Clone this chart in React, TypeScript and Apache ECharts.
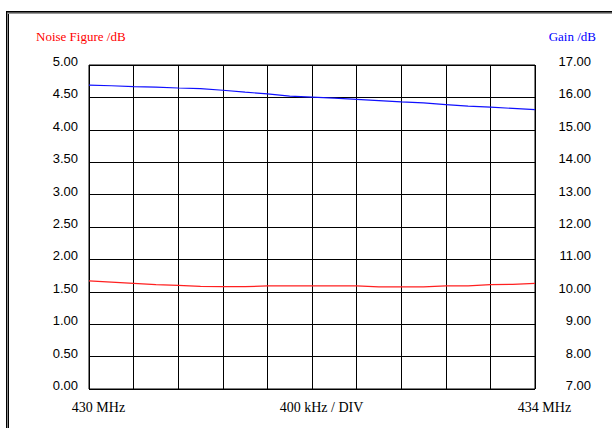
import React, { useEffect, useRef } from "react";
import * as echarts from "echarts";

const freqMHz = [430.0, 430.2, 430.4, 430.6, 430.8, 431.0, 431.2, 431.4, 431.6, 431.8, 432.0, 432.2, 432.4, 432.6, 432.8, 433.0, 433.2, 433.4, 433.6, 433.8, 434.0];
const noiseFigure = [1.67, 1.65, 1.63, 1.61, 1.6, 1.585, 1.58, 1.58, 1.59, 1.59, 1.59, 1.59, 1.59, 1.575, 1.575, 1.575, 1.59, 1.59, 1.61, 1.615, 1.63];
const gain = [16.38, 16.36, 16.33, 16.32, 16.29, 16.27, 16.22, 16.16, 16.11, 16.04, 16.01, 15.98, 15.94, 15.9, 15.86, 15.83, 15.78, 15.73, 15.7, 15.66, 15.62];
const xLabels = ["430 MHz", "400 kHz / DIV", "434 MHz"];
const leftTitle = "Noise Figure /dB";
const rightTitle = "Gain /dB";

export default function App() {
  const ref = useRef<HTMLDivElement>(null);
  useEffect(() => {
    if (!ref.current) return;
    const chart = echarts.init(ref.current, null, { renderer: "svg" });
    const tickFont = { fontFamily: "Liberation Sans", fontSize: 13, color: "#000", verticalAlign: "bottom", lineHeight: 7 };
    chart.setOption({
      animation: false,
      backgroundColor: "#fff",
      grid: { left: 89, top: 65, right: 77, bottom: 39, show: true, borderColor: "#000", borderWidth: 1 },
      xAxis: {
        type: "value",
        min: 430,
        max: 434,
        interval: 0.4,
        axisLine: { show: false },
        axisTick: { show: false },
        splitLine: { show: true, lineStyle: { color: "#000", width: 1 } },
        axisLabel: {
          show: true,
          showMinLabel: true,
          showMaxLabel: true,
          hideOverlap: false,
          margin: 11,
          padding: [0, 0, 0, 19],
          fontFamily: "Liberation Serif",
          fontSize: 14,
          color: "#000",
          formatter: (v: number) => {
            if (Math.abs(v - 430) < 1e-6) return xLabels[0];
            if (Math.abs(v - 432) < 1e-6) return xLabels[1];
            if (Math.abs(v - 434) < 1e-6) return xLabels[2];
            return "";
          },
        },
      },
      yAxis: [
        {
          type: "value",
          min: 0,
          max: 5,
          interval: 0.5,
          position: "left",
          axisLine: { show: false },
          axisTick: { show: false },
          splitLine: { show: true, lineStyle: { color: "#000", width: 1 } },
          axisLabel: { ...tickFont, margin: 11, formatter: (v: number) => v.toFixed(2) },
        },
        {
          type: "value",
          min: 7,
          max: 17,
          interval: 1,
          position: "right",
          axisLine: { show: false },
          axisTick: { show: false },
          splitLine: { show: false },
          axisLabel: { ...tickFont, margin: 56, align: "right", formatter: (v: number) => v.toFixed(2) },
        },
      ],
      series: [
        {
          type: "line",
          yAxisIndex: 0,
          data: freqMHz.map((f, i) => [f, noiseFigure[i]]),
          symbol: "none",
          lineStyle: { color: "#ff2020", width: 1.2 },
          z: 5,
        },
        {
          type: "line",
          yAxisIndex: 1,
          data: freqMHz.map((f, i) => [f, gain[i]]),
          symbol: "none",
          lineStyle: { color: "#1010ff", width: 1.2 },
          z: 5,
        },
      ],
      graphic: [
        { type: "line", shape: { x1: 6.5, y1: 11.5, x2: 6.5, y2: 440 }, style: { stroke: "#000", lineWidth: 1 } },
        { type: "line", shape: { x1: 7.5, y1: 12.5, x2: 7.5, y2: 440 }, style: { stroke: "#888", lineWidth: 1 } },
        { type: "line", shape: { x1: 8.5, y1: 13.5, x2: 8.5, y2: 440 }, style: { stroke: "#000", lineWidth: 1 } },
        { type: "line", shape: { x1: 6, y1: 11.5, x2: 620, y2: 11.5 }, style: { stroke: "#000", lineWidth: 1 } },
        { type: "line", shape: { x1: 7, y1: 12.5, x2: 620, y2: 12.5 }, style: { stroke: "#555", lineWidth: 1 } },
        { type: "line", shape: { x1: 8, y1: 13.5, x2: 620, y2: 13.5 }, style: { stroke: "#999", lineWidth: 1 } },
        {
          type: "text",
          left: 36,
          top: 30,
          style: { text: leftTitle, fill: "#ff0000", font: "13px 'Liberation Serif'" },
        },
        {
          type: "text",
          right: 16,
          top: 30,
          style: { text: rightTitle, fill: "#0000ff", font: "13px 'Liberation Serif'" },
        },
      ],
    });
    return () => chart.dispose();
  }, []);
  return <div ref={ref} style={{ position: "fixed", left: 0, top: 0, width: 612, height: 428 }} />;
}
